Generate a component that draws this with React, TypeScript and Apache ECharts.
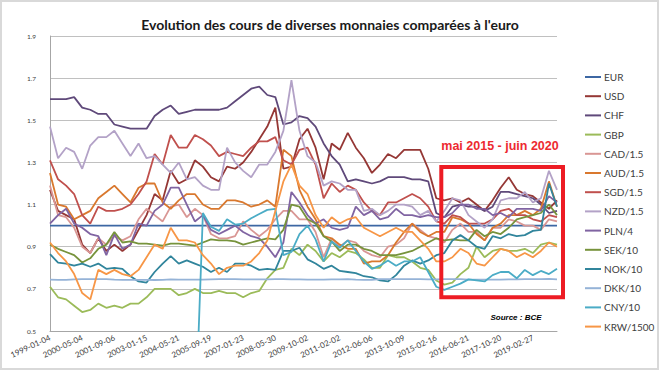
import React, { useEffect, useRef } from "react";
import * as echarts from "echarts";

const dates = [
  "1999-01-04","1999-05-04","1999-09-03","2000-01-04",
  "2000-05-04","2000-09-05","2001-01-05","2001-05-07",
  "2001-09-06","2002-01-10","2002-05-14","2002-09-12",
  "2003-01-15","2003-05-19","2003-09-18","2004-01-20",
  "2004-05-21","2004-09-21","2005-01-20","2005-05-20",
  "2005-09-19","2006-01-19","2006-05-22","2006-09-20",
  "2007-01-23","2007-05-24","2007-09-24","2008-01-24",
  "2008-05-30","2008-10-24","2009-02-17","2009-06-01",
  "2009-10-02","2010-02-02","2010-06-03","2010-10-01",
  "2011-02-02","2011-06-03","2011-10-04","2012-02-03",
  "2012-06-06","2012-10-05","2013-02-06","2013-06-07",
  "2013-10-09","2014-02-10","2014-06-12","2014-10-14",
  "2015-02-16","2015-06-18","2015-10-19","2016-02-18",
  "2016-06-21","2016-10-20","2017-02-20","2017-06-21",
  "2017-10-20","2018-02-22","2018-06-25","2018-10-25",
  "2019-02-27","2019-08-01","2020-03-19","2020-06-30"
];

const EUR = [1,1,1,1, 1,1,1,1, 1,1,1,1, 1,1,1,1, 1,1,1,1, 1,1,1,1, 1,1,1,1, 1,1,1,1, 1,1,1,1, 1,1,1,1, 1,1,1,1, 1,1,1,1, 1,1,1,1, 1,1,1,1, 1,1,1,1, 1,1,1,1];
const USD = [1.17,1.07,1.05,1.03, 0.91,0.87,0.94,0.88, 0.91,0.88,0.91,0.98, 1.05,1.15,1.12,1.26, 1.20,1.22,1.31,1.28, 1.23,1.21,1.28,1.27, 1.30,1.35,1.41,1.47, 1.56,1.27,1.28,1.41, 1.46,1.37,1.22,1.39, 1.36,1.44,1.37,1.32, 1.25,1.29,1.34,1.32, 1.36,1.36,1.36,1.27, 1.13,1.12,1.13,1.11, 1.13,1.10,1.07,1.12, 1.18,1.23,1.17,1.15, 1.14,1.11,1.08,1.12];
const CHF = [1.60,1.60,1.60,1.61, 1.56,1.55,1.53,1.53, 1.48,1.47,1.46,1.46, 1.46,1.52,1.55,1.57, 1.53,1.54,1.55,1.55, 1.55,1.55,1.56,1.59, 1.62,1.65,1.66,1.62, 1.61,1.48,1.49,1.52, 1.51,1.47,1.39,1.33, 1.29,1.21,1.22,1.21, 1.20,1.21,1.23,1.23, 1.23,1.22,1.22,1.21, 1.06,1.04,1.09,1.10, 1.09,1.09,1.07,1.09, 1.16,1.16,1.15,1.14, 1.13,1.10,1.06,1.07];
const GBP = [0.71,0.66,0.65,0.62, 0.59,0.60,0.63,0.61, 0.62,0.61,0.63,0.63, 0.66,0.70,0.70,0.70, 0.67,0.68,0.70,0.68, 0.68,0.69,0.68,0.68, 0.66,0.68,0.69,0.75, 0.79,0.80,0.89,0.86, 0.91,0.88,0.83,0.87, 0.85,0.88,0.87,0.84, 0.80,0.80,0.86,0.85, 0.85,0.83,0.80,0.79, 0.74,0.72,0.73,0.77, 0.80,0.90,0.85,0.88, 0.89,0.88,0.88,0.89, 0.87,0.91,0.92,0.91];
const CAD = [1.19,1.05,1.04,0.99, 0.90,0.87,0.94,0.91, 0.95,0.93,0.95,1.03, 1.08,1.05,1.02,1.09, 1.10,1.04,1.08,1.05, 0.96,0.94,0.94,0.95, 1.02,0.98,0.95,0.98, 1.03,1.07,1.07,1.03, 1.03,0.97,0.85,0.94, 0.90,0.93,0.92,0.88, 0.86,0.85,0.90,0.91, 0.94,1.01,0.98,0.95, 0.94,0.92,0.98,1.01, 0.97,0.97,0.93,0.99, 0.99,1.03,1.02,1.00, 1.00,0.98,1.03,1.02];
const AUD = [1.25,1.10,1.09,1.03, 1.05,1.07,1.13,1.16, 1.19,1.15,1.11,1.18, 1.20,1.20,1.11,1.08, 1.12,1.15,1.15,1.10, 1.08,1.08,1.12,1.12, 1.11,1.09,1.10,1.12, 1.09,1.36,1.33,1.17, 1.09,1.03,0.95,0.94, 0.91,0.89,0.89,0.82, 0.83,0.83,0.86,0.92, 0.97,1.01,0.97,0.95, 0.97,0.97,1.04,1.03, 1.01,0.96,0.93,0.99, 1.01,1.05,1.05,1.07, 1.05,1.08,1.21,1.09];
const SGD = [1.31,1.22,1.19,1.15, 1.05,1.01,1.09,1.07, 1.07,1.08,1.10,1.15, 1.21,1.34,1.29,1.43, 1.37,1.37,1.43,1.41, 1.38,1.33,1.35,1.34, 1.33,1.37,1.40,1.40, 1.42,1.31,1.29,1.36, 1.37,1.29,1.13,1.20, 1.16,1.19,1.17,1.11, 1.07,1.05,1.11,1.11, 1.13,1.15,1.13,1.09, 1.02,1.01,1.05,1.04, 1.01,1.01,1.01,1.03, 1.07,1.08,1.05,1.05, 1.03,1.02,1.05,1.04];
const NZD = [1.47,1.32,1.37,1.35, 1.27,1.38,1.42,1.42, 1.45,1.39,1.33,1.39, 1.32,1.33,1.29,1.25, 1.30,1.22,1.23,1.19, 1.17,1.17,1.37,1.30, 1.26,1.23,1.29,1.29, 1.35,1.45,1.69,1.45, 1.33,1.30,1.19,1.21, 1.20,1.17,1.17,1.07, 1.08,1.05,1.07,1.10, 1.10,1.09,1.05,1.07, 1.02,1.07,1.13,1.12, 1.05,1.02,0.99,1.03, 1.12,1.13,1.13,1.16, 1.11,1.13,1.26,1.17];
const PLN = [1.01,1.05,1.08,1.01, 0.99,0.96,0.95,0.86, 0.96,0.89,0.91,1.01, 1.00,1.07,1.10,1.18, 1.18,1.10,1.02,1.05, 0.98,0.96,0.98,1.00, 0.97,0.95,0.94,0.90, 0.85,0.92,1.16,1.11, 1.05,1.01,1.03,0.99, 0.98,0.99,1.09,1.05, 1.07,1.03,1.04,1.08, 1.05,1.05,1.04,1.05, 1.04,1.04,1.06,1.10, 1.10,1.08,1.08,1.05, 1.06,1.04,1.08,1.08, 1.08,1.07,1.14,1.11];
const SEK = [0.91,0.89,0.875,0.86, 0.825,0.845,0.89,0.91, 0.97,0.92,0.925,0.915, 0.915,0.91,0.905,0.915, 0.915,0.91,0.905,0.92, 0.935,0.93,0.93,0.925, 0.91,0.92,0.93,0.94, 0.935,0.98,1.10,1.09, 1.03,1.01,0.95,0.925, 0.88,0.91,0.91,0.89, 0.88,0.86,0.86,0.86, 0.87,0.88,0.90,0.92, 0.94,0.93,0.935,0.93, 0.93,0.98,0.95,0.97, 0.96,0.99,1.03,1.04, 1.05,1.06,1.10,1.05];
const NOK = [0.865,0.825,0.82,0.81, 0.82,0.805,0.82,0.795, 0.80,0.795,0.76,0.735, 0.73,0.78,0.82,0.855, 0.82,0.835,0.82,0.805, 0.78,0.80,0.78,0.82, 0.82,0.81,0.79,0.795, 0.79,0.88,0.88,0.895, 0.84,0.82,0.795,0.81, 0.785,0.78,0.775,0.76, 0.755,0.74,0.735,0.765, 0.81,0.835,0.82,0.835, 0.86,0.87,0.93,0.955, 0.93,0.90,0.89,0.95, 0.94,0.96,0.95,0.955, 0.975,0.98,1.20,1.09];
const DKK = [0.744,0.743,0.743,0.745, 0.746,0.746,0.746,0.746, 0.744,0.743,0.743,0.743, 0.743,0.742,0.743,0.745, 0.744,0.744,0.744,0.744, 0.745,0.746,0.746,0.746, 0.745,0.745,0.745,0.745, 0.746,0.746,0.745,0.745, 0.744,0.744,0.744,0.745, 0.745,0.746,0.744,0.743, 0.743,0.746,0.746,0.746, 0.746,0.746,0.746,0.745, 0.745,0.746,0.746,0.746, 0.744,0.744,0.744,0.744, 0.744,0.745,0.745,0.746, 0.746,0.746,0.747,0.745];
const CNY = [null,null,null,null, null,null,null,null, null,null,null,null, null,null,null,null, null,null,0,1.06, 0.995,0.975,1.03,1.005, 1.01,1.035,1.055,1.075, 1.08,0.86,0.875,0.96, 1.00,0.935,0.83,0.925, 0.895,0.93,0.88,0.83, 0.795,0.81,0.835,0.81, 0.83,0.83,0.85,0.78, 0.71,0.695,0.71,0.725, 0.745,0.74,0.735,0.765, 0.78,0.78,0.75,0.79, 0.765,0.785,0.77,0.795];
const KRW = [0.92,0.87,0.83,0.77, 0.68,0.65,0.79,0.77, 0.79,0.77,0.76,0.79, 0.85,0.91,0.89,0.99, 0.93,0.93,0.92,0.86, 0.82,0.77,0.80,0.81, 0.81,0.83,0.87,0.93, 1.07,1.21,1.29,1.19, 1.15,1.05,0.99,1.04, 1.01,1.03,1.04,0.99, 0.97,0.95,0.97,0.99, 0.97,0.97,0.93,0.89, 0.83,0.83,0.85,0.89, 0.87,0.82,0.81,0.85, 0.89,0.88,0.85,0.87, 0.85,0.88,0.92,0.90];

const seriesNames = ["EUR","USD","CHF","GBP","CAD/1.5","AUD/1.5","SGD/1.5","NZD/1.5","PLN/4","SEK/10","NOK/10","DKK/10","CNY/10","KRW/1500"];
const seriesData = [EUR, USD, CHF, GBP, CAD, AUD, SGD, NZD, PLN, SEK, NOK, DKK, CNY, KRW];
const seriesColors = ["#3d67a3","#953735","#5f497a","#9bbb59","#d99694","#d9782e","#c0504d","#b3a2c7","#8064a2","#77933c","#31859c","#95b3d7","#4bacc6","#f79646"];

export default function App() {
  const ref = useRef<HTMLDivElement>(null);
  useEffect(() => {
    if (!ref.current) return;
    const chart = echarts.init(ref.current, null, { renderer: "svg" });
    const font = "Lato, 'Liberation Sans', sans-serif";
    chart.setOption({
      animation: false,
      backgroundColor: "#ffffff",
      title: {
        text: "Evolution des cours de diverses monnaies comparées à l'euro",
        left: "center",
        top: 12,
        textStyle: { fontFamily: font, fontSize: 14, fontWeight: "bold", color: "#1a1a1a" },
      },
      grid: { left: 50, right: 103, top: 36, bottom: 40, containLabel: false },
      legend: {
        orient: "vertical",
        left: 580,
        top: 66,
        icon: "rect",
        itemWidth: 16,
        itemHeight: 2,
        itemGap: 7.2,
        data: seriesNames,
        textStyle: { fontFamily: font, fontSize: 10, color: "#404040", lineHeight: 12, padding: [0, 0, 0, -2] },
      },
      xAxis: {
        type: "category",
        data: dates,
        boundaryGap: false,
        axisLine: { lineStyle: { color: "#a6a6a6", width: 1 } },
        axisTick: { show: false },
        axisLabel: { interval: 3, rotate: 25, fontSize: 8, fontFamily: font, color: "#404040", margin: 6 },
        splitLine: { show: false },
      },
      yAxis: {
        type: "value",
        min: 0.5,
        max: 1.9,
        interval: 0.2,
        axisLine: { show: true, lineStyle: { color: "#a6a6a6", width: 1 } },
        axisTick: { show: false },
        axisLabel: { formatter: (v: number) => v.toFixed(1), fontSize: 6.5, fontFamily: font, color: "#404040", margin: 14 },
        splitLine: { lineStyle: { color: "#c0c0c0", width: 1 } },
      },
      series: seriesNames.map((name, k) => ({
        name,
        type: "line",
        data: seriesData[k],
        showSymbol: false,
        symbol: "none",
        connectNulls: false,
        lineStyle: { width: 1.8, color: seriesColors[k] },
        itemStyle: { color: seriesColors[k] },
      })),
      graphic: [
        {
          type: "rect",
          shape: { x: 1, y: 1, width: 657, height: 368 },
          style: { fill: "none", stroke: "#d9d9d9", lineWidth: 2 },
          silent: true,
        },
        {
          type: "rect",
          shape: { x: 441.3, y: 167, width: 121.7, height: 130.3 },
          style: { fill: "none", stroke: "#ed1c24", lineWidth: 4 },
          z: 100,
        },
        {
          type: "text",
          x: 500,
          y: 146,
          style: {
            text: "mai 2015 - juin 2020",
            fill: "#ed2a30",
            font: "bold 12.5px 'Liberation Sans', Arial, sans-serif",
            textAlign: "center",
            textVerticalAlign: "middle",
          },
          z: 100,
        },
        {
          type: "text",
          x: 516,
          y: 317,
          style: {
            text: "Source : BCE",
            fill: "#000000",
            font: "italic bold 8px 'Liberation Sans', Arial, sans-serif",
            textAlign: "center",
            textVerticalAlign: "middle",
          },
          z: 100,
        },
      ],
    });
    return () => chart.dispose();
  }, []);
  return <div ref={ref} style={{ position: "fixed", left: 0, top: 0, width: 660, height: 371 }} />;
}
